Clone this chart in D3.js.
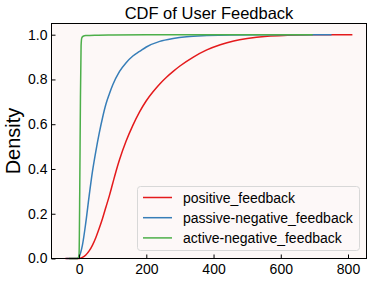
<!DOCTYPE html>
<meta charset="utf-8">
<head>
  <title>CDF of User Feedback</title>
</head>

<style>
body {
  margin: 0;
  background: #fff;
  font-family: "Liberation Sans", Arial, sans-serif;
}
</style>

<body>
  <svg id="chart" width="373" height="281"></svg>

  <script src="https://cdnjs.cloudflare.com/ajax/libs/d3/7.8.5/d3.min.js"></script>

  <script>
// series, in drawing order (green ends up on top)
var seriesNames = ['positive_feedback', 'passive-negative_feedback', 'active-negative_feedback'];
var seriesColors = ['#e41a1c', '#377eb8', '#4daf4a'];

// cumulative density
var positiveX = [-41, 0, 10, 20, 30, 40, 50, 60, 70, 80, 90, 100, 110, 120, 140, 160, 180, 200, 220, 240, 260, 280, 300, 340, 380, 420, 460, 500, 560, 620, 700, 813];
var positiveY = [0, 0, 0.005, 0.016, 0.034, 0.06, 0.094, 0.135, 0.18, 0.23, 0.28, 0.335, 0.39, 0.44, 0.525, 0.595, 0.655, 0.705, 0.745, 0.78, 0.81, 0.836, 0.86, 0.9, 0.932, 0.955, 0.972, 0.983, 0.993, 0.997, 0.9995, 1];

var passiveX = [-38, -5, 0, 10, 20, 30, 40, 50, 60, 70, 80, 90, 100, 120, 140, 160, 180, 200, 240, 280, 320, 380, 450, 550, 751];
var passiveY = [0, 0, 0.008, 0.06, 0.16, 0.28, 0.39, 0.48, 0.56, 0.63, 0.69, 0.735, 0.775, 0.835, 0.875, 0.905, 0.925, 0.945, 0.97, 0.983, 0.991, 0.996, 0.999, 1, 1];

var activeX = [-30, -4, 0, 2, 4, 6, 8, 12, 20, 50, 100, 200, 695];
var activeY = [0, 0, 0.02, 0.3, 0.7, 0.95, 0.985, 0.993, 0.996, 0.998, 0.999, 1, 1];

var xTicks = [0, 200, 400, 600, 800];
var yTicks = [0, 0.2, 0.4, 0.6, 0.8, 1.0];

var series = [
  { x: positiveX, y: positiveY },
  { x: passiveX, y: passiveY },
  { x: activeX, y: activeY }
];

var svg = d3.select('#chart');

var plotLeft = 51.5, plotRight = 366.5, plotTop = 23.5, plotBottom = 258.5;

var x = d3.scaleLinear().domain([-82, 855]).range([plotLeft, plotRight]);
var y = d3.scaleLinear().domain([0, 1.05]).range([plotBottom, plotTop]);

// axes background
svg.append('rect')
  .attr('x', plotLeft).attr('y', plotTop)
  .attr('width', plotRight - plotLeft).attr('height', plotBottom - plotTop)
  .attr('fill', '#fdf8f7');

var line = d3.line()
  .x(function(d) { return x(d[0]); })
  .y(function(d) { return y(d[1]); })
  .curve(d3.curveMonotoneX);

series.forEach(function(s, i) {
  var pts = s.x.map(function(v, j) { return [v, s.y[j]]; });
  svg.append('path')
    .datum(pts)
    .attr('d', line)
    .attr('fill', 'none')
    .attr('stroke', seriesColors[i])
    .attr('stroke-width', 1.5);
});

// axes, ticks pointing inward
var xAxis = svg.append('g')
  .attr('transform', 'translate(0,' + plotBottom + ')')
  .call(d3.axisBottom(x).tickValues(xTicks).tickSize(-4).tickPadding(5.5).tickFormat(d3.format('d')));

var yAxis = svg.append('g')
  .attr('transform', 'translate(' + plotLeft + ',0)')
  .call(d3.axisLeft(y).tickValues(yTicks).tickSize(-4).tickPadding(4).tickFormat(d3.format('.1f')));

[xAxis, yAxis].forEach(function(g) {
  g.select('.domain').remove();
  g.selectAll('text')
    .attr('font-family', '"Liberation Sans", Arial, sans-serif')
    .attr('font-size', 14)
    .attr('fill', '#000');
  g.selectAll('line').attr('stroke', '#000').attr('stroke-width', 1);
});

// frame
svg.append('rect')
  .attr('x', plotLeft).attr('y', plotTop)
  .attr('width', plotRight - plotLeft).attr('height', plotBottom - plotTop)
  .attr('fill', 'none')
  .attr('stroke', '#000')
  .attr('stroke-width', 1);

// title and y label
svg.append('text')
  .attr('x', (plotLeft + plotRight) / 2)
  .attr('y', 18.5)
  .attr('text-anchor', 'middle')
  .attr('font-size', 16.5)
  .attr('fill', '#000')
  .text('CDF of User Feedback');

svg.append('text')
  .attr('transform', 'translate(20,' + (plotTop + plotBottom) / 2 + ') rotate(-90)')
  .attr('text-anchor', 'middle')
  .attr('font-size', 20)
  .attr('fill', '#000')
  .text('Density');

// legend
var legend = svg.append('g');
legend.append('rect')
  .attr('x', 137.5).attr('y', 186.5)
  .attr('width', 222).attr('height', 64)
  .attr('rx', 3)
  .attr('fill', '#fdf8f7')
  .attr('fill-opacity', 0.8)
  .attr('stroke', '#d8d8d8')
  .attr('stroke-width', 1);

seriesNames.forEach(function(name, i) {
  var ly = 197.5 + i * 20.2;
  legend.append('line')
    .attr('x1', 143).attr('x2', 172)
    .attr('y1', ly).attr('y2', ly)
    .attr('stroke', seriesColors[i])
    .attr('stroke-width', 1.5);
  legend.append('text')
    .attr('x', 183)
    .attr('y', ly + 5)
    .attr('font-size', 14)
    .attr('fill', '#000')
    .text(name);
});
  </script>
</body>
</html>
